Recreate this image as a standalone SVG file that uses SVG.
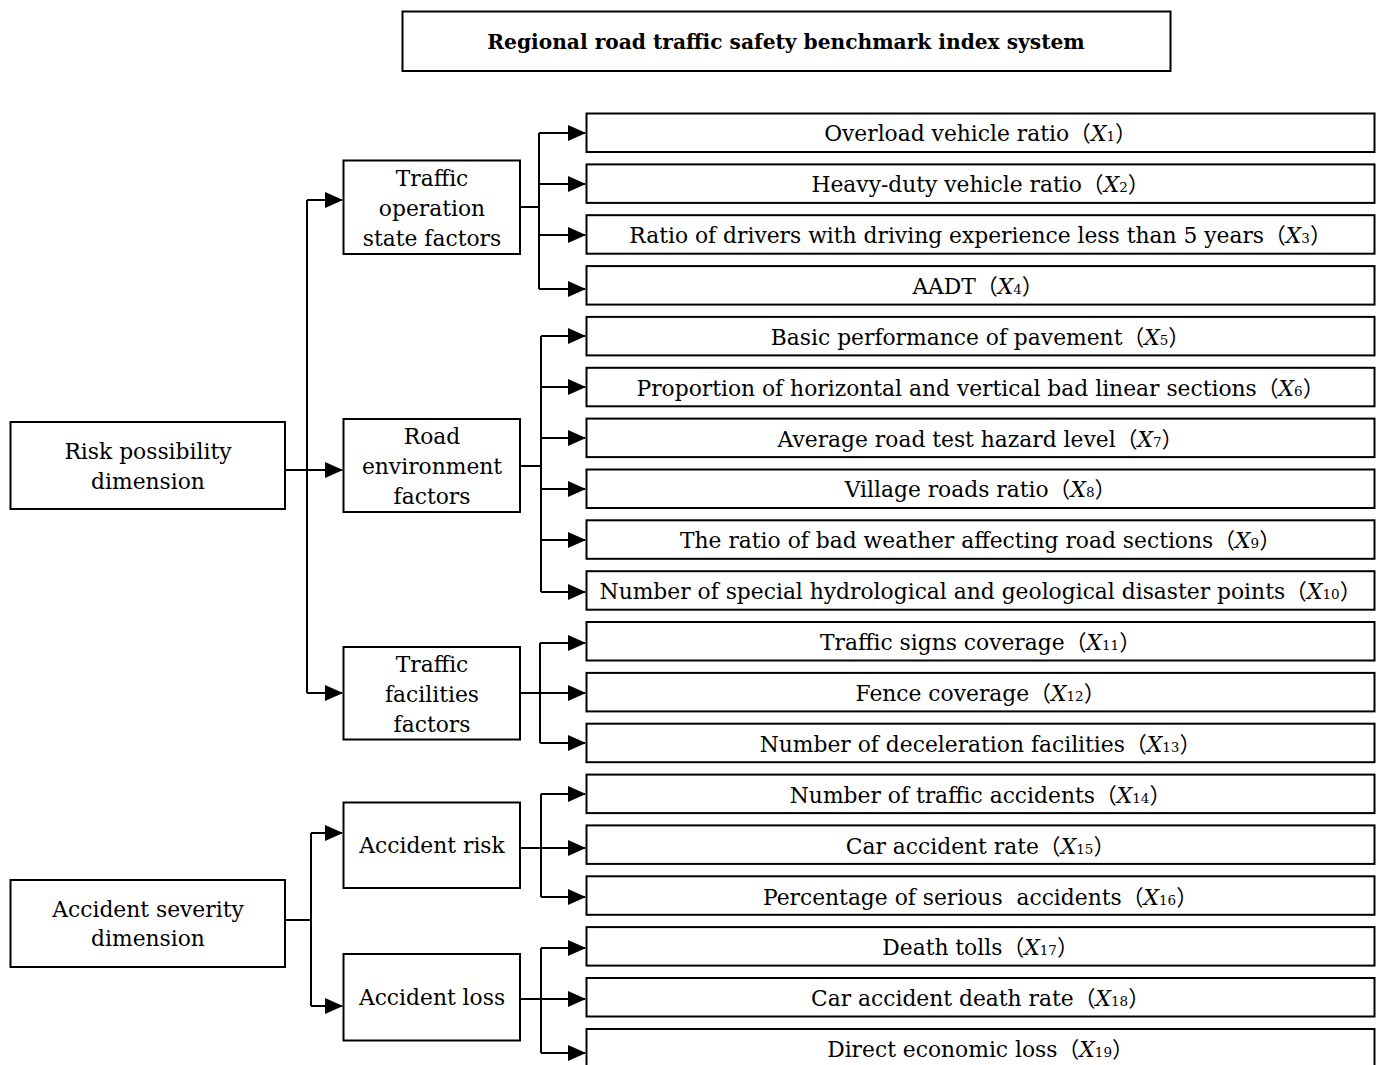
<svg xmlns="http://www.w3.org/2000/svg" width="1384" height="1065" viewBox="0 0 1384 1065">
<style>
.box{fill:#fff;stroke:#000;stroke-width:2}
.t{font-family:"DejaVu Serif","Noto Sans CJK SC",serif;font-size:21.8px;fill:#000;text-anchor:middle}
.title{font-family:"DejaVu Serif","Noto Sans CJK SC",serif;font-size:20.2px;font-weight:bold;fill:#000;text-anchor:middle}
.p{font-family:"Noto Sans CJK SC",sans-serif}
.x{font-style:italic}
.s{font-size:13.5px}
.c{fill:none;stroke:#000;stroke-width:2}
</style>
<defs>
<marker id="ah" viewBox="0 0 18 16" refX="17" refY="8" markerWidth="18" markerHeight="16" markerUnits="userSpaceOnUse" orient="auto">
<path d="M0,0 L18,8 L0,16 Z" fill="#000"/>
</marker>
</defs>
<rect width="1384" height="1065" fill="#fff"/>

<g id="connectors">
<!-- Risk possibility -->
<path class="c" d="M285,470 H307"/>
<path class="c" d="M307,693 V200"/>
<path class="c" d="M307,200 H342" marker-end="url(#ah)"/>
<path class="c" d="M307,470 H342" marker-end="url(#ah)"/>
<path class="c" d="M307,693 H342" marker-end="url(#ah)"/>
<!-- Traffic operation -->
<path class="c" d="M520,207 H539"/>
<path class="c" d="M539,133 V289"/>
<path class="c" d="M539,133 H585" marker-end="url(#ah)"/>
<path class="c" d="M539,184 H585" marker-end="url(#ah)"/>
<path class="c" d="M539,235 H585" marker-end="url(#ah)"/>
<path class="c" d="M539,289 H585" marker-end="url(#ah)"/>
<!-- Road environment -->
<path class="c" d="M520,466 H541"/>
<path class="c" d="M541,336 V592"/>
<path class="c" d="M541,336 H585" marker-end="url(#ah)"/>
<path class="c" d="M541,387 H585" marker-end="url(#ah)"/>
<path class="c" d="M541,438 H585" marker-end="url(#ah)"/>
<path class="c" d="M541,489 H585" marker-end="url(#ah)"/>
<path class="c" d="M541,540 H585" marker-end="url(#ah)"/>
<path class="c" d="M541,592 H585" marker-end="url(#ah)"/>
<!-- Traffic facilities -->
<path class="c" d="M540,643 V743"/>
<path class="c" d="M540,643 H585" marker-end="url(#ah)"/>
<path class="c" d="M520,693 H585" marker-end="url(#ah)"/>
<path class="c" d="M540,743 H585" marker-end="url(#ah)"/>
<!-- Accident severity -->
<path class="c" d="M285,920 H311"/>
<path class="c" d="M311,833 V1006"/>
<path class="c" d="M311,833 H342" marker-end="url(#ah)"/>
<path class="c" d="M311,1006 H342" marker-end="url(#ah)"/>
<!-- Accident risk -->
<path class="c" d="M541,794 V897"/>
<path class="c" d="M541,794 H585" marker-end="url(#ah)"/>
<path class="c" d="M520,848 H585" marker-end="url(#ah)"/>
<path class="c" d="M541,897 H585" marker-end="url(#ah)"/>
<!-- Accident loss -->
<path class="c" d="M541,948 V1053"/>
<path class="c" d="M541,948 H585" marker-end="url(#ah)"/>
<path class="c" d="M520,999 H585" marker-end="url(#ah)"/>
<path class="c" d="M541,1053 H585" marker-end="url(#ah)"/>
</g>

<g id="title">
<rect class="box" x="402.5" y="11.5" width="768" height="59.5"/>
<text class="title" x="786" y="49">Regional road traffic safety benchmark index system</text>
</g>

<g id="risk-possibility">
<rect class="box" x="10.5" y="422" width="274.5" height="87"/>
<text class="t" x="148" y="459">Risk possibility</text>
<text class="t" x="148" y="489">dimension</text>
</g>
<g id="accident-severity">
<rect class="box" x="10.5" y="880" width="274.5" height="87"/>
<text class="t" x="148" y="917">Accident severity</text>
<text class="t" x="148" y="946">dimension</text>
</g>

<g id="traffic-operation">
<rect class="box" x="343.5" y="160.5" width="176.5" height="93.5"/>
<text class="t" x="432" y="186">Traffic</text>
<text class="t" x="432" y="216">operation</text>
<text class="t" x="432" y="246">state factors</text>
</g>
<g id="road-environment">
<rect class="box" x="343.5" y="419" width="176.5" height="93"/>
<text class="t" x="432" y="444">Road</text>
<text class="t" x="432" y="474">environment</text>
<text class="t" x="432" y="504">factors</text>
</g>
<g id="traffic-facilities">
<rect class="box" x="343.5" y="647" width="176.5" height="92.5"/>
<text class="t" x="432" y="672">Traffic</text>
<text class="t" x="432" y="702">facilities</text>
<text class="t" x="432" y="732">factors</text>
</g>
<g id="accident-risk">
<rect class="box" x="343.5" y="802.5" width="176.5" height="85.5"/>
<text class="t" x="432" y="853">Accident risk</text>
</g>
<g id="accident-loss">
<rect class="box" x="343.5" y="954" width="176.5" height="86.5"/>
<text class="t" x="432" y="1005">Accident loss</text>
</g>

<g id="x1"><rect class="box" x="586.5" y="113.5" width="788" height="38.5"/><text class="t" x="980.5" y="141">Overload vehicle ratio<tspan class="p">（</tspan><tspan class="x">X</tspan><tspan class="s">1</tspan><tspan class="p">）</tspan></text></g>
<g id="x2"><rect class="box" x="586.5" y="164.4" width="788" height="38.5"/><text class="t" x="980.5" y="192">Heavy-duty vehicle ratio<tspan class="p">（</tspan><tspan class="x">X</tspan><tspan class="s">2</tspan><tspan class="p">）</tspan></text></g>
<g id="x3"><rect class="box" x="586.5" y="215.2" width="788" height="38.5"/><text class="t" x="980.5" y="243">Ratio of drivers with driving experience less than 5 years<tspan class="p">（</tspan><tspan class="x">X</tspan><tspan class="s">3</tspan><tspan class="p">）</tspan></text></g>
<g id="x4"><rect class="box" x="586.5" y="266.1" width="788" height="38.5"/><text class="t" x="978" y="294">AADT<tspan class="p">（</tspan><tspan class="x">X</tspan><tspan class="s">4</tspan><tspan class="p">）</tspan></text></g>
<g id="x5"><rect class="box" x="586.5" y="316.9" width="788" height="38.5"/><text class="t" x="980.5" y="345">Basic performance of pavement<tspan class="p">（</tspan><tspan class="x">X</tspan><tspan class="s">5</tspan><tspan class="p">）</tspan></text></g>
<g id="x6"><rect class="box" x="586.5" y="367.8" width="788" height="38.5"/><text class="t" x="980.5" y="396">Proportion of horizontal and vertical bad linear sections<tspan class="p">（</tspan><tspan class="x">X</tspan><tspan class="s">6</tspan><tspan class="p">）</tspan></text></g>
<g id="x7"><rect class="box" x="586.5" y="418.6" width="788" height="38.5"/><text class="t" x="980.5" y="447">Average road test hazard level<tspan class="p">（</tspan><tspan class="x">X</tspan><tspan class="s">7</tspan><tspan class="p">）</tspan></text></g>
<g id="x8"><rect class="box" x="586.5" y="469.5" width="788" height="38.5"/><text class="t" x="980.5" y="497">Village roads ratio<tspan class="p">（</tspan><tspan class="x">X</tspan><tspan class="s">8</tspan><tspan class="p">）</tspan></text></g>
<g id="x9"><rect class="box" x="586.5" y="520.3" width="788" height="38.5"/><text class="t" x="980.5" y="548">The ratio of bad weather affecting road sections<tspan class="p">（</tspan><tspan class="x">X</tspan><tspan class="s">9</tspan><tspan class="p">）</tspan></text></g>
<g id="x10"><rect class="box" x="586.5" y="571.2" width="788" height="38.5"/><text class="t" x="980.5" y="599">Number of special hydrological and geological disaster points<tspan class="p">（</tspan><tspan class="x">X</tspan><tspan class="s">10</tspan><tspan class="p">）</tspan></text></g>
<g id="x11"><rect class="box" x="586.5" y="622" width="788" height="38.5"/><text class="t" x="980.5" y="650">Traffic signs coverage<tspan class="p">（</tspan><tspan class="x">X</tspan><tspan class="s">11</tspan><tspan class="p">）</tspan></text></g>
<g id="x12"><rect class="box" x="586.5" y="672.9" width="788" height="38.5"/><text class="t" x="980.5" y="701">Fence coverage<tspan class="p">（</tspan><tspan class="x">X</tspan><tspan class="s">12</tspan><tspan class="p">）</tspan></text></g>
<g id="x13"><rect class="box" x="586.5" y="723.7" width="788" height="38.5"/><text class="t" x="980.5" y="752">Number of deceleration facilities<tspan class="p">（</tspan><tspan class="x">X</tspan><tspan class="s">13</tspan><tspan class="p">）</tspan></text></g>
<g id="x14"><rect class="box" x="586.5" y="774.6" width="788" height="38.5"/><text class="t" x="980.5" y="803">Number of traffic accidents<tspan class="p">（</tspan><tspan class="x">X</tspan><tspan class="s">14</tspan><tspan class="p">）</tspan></text></g>
<g id="x15"><rect class="box" x="586.5" y="825.4" width="788" height="38.5"/><text class="t" x="980.5" y="854">Car accident rate<tspan class="p">（</tspan><tspan class="x">X</tspan><tspan class="s">15</tspan><tspan class="p">）</tspan></text></g>
<g id="x16"><rect class="box" x="586.5" y="876.3" width="788" height="38.5"/><text class="t" x="980.5" y="905" xml:space="preserve">Percentage of serious  accidents<tspan class="p">（</tspan><tspan class="x">X</tspan><tspan class="s">16</tspan><tspan class="p">）</tspan></text></g>
<g id="x17"><rect class="box" x="586.5" y="927.1" width="788" height="38.5"/><text class="t" x="980.5" y="955">Death tolls<tspan class="p">（</tspan><tspan class="x">X</tspan><tspan class="s">17</tspan><tspan class="p">）</tspan></text></g>
<g id="x18"><rect class="box" x="586.5" y="978" width="788" height="38.5"/><text class="t" x="980.5" y="1006">Car accident death rate<tspan class="p">（</tspan><tspan class="x">X</tspan><tspan class="s">18</tspan><tspan class="p">）</tspan></text></g>
<g id="x19"><rect class="box" x="586.5" y="1029" width="788" height="60"/><text class="t" x="980.5" y="1057">Direct economic loss<tspan class="p">（</tspan><tspan class="x">X</tspan><tspan class="s">19</tspan><tspan class="p">）</tspan></text></g>
</svg>
